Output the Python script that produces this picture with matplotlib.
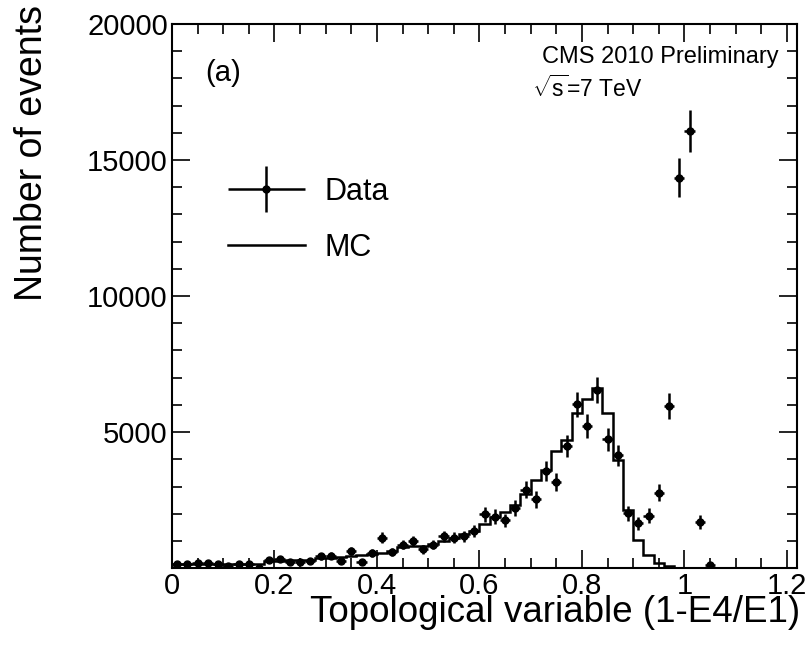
import numpy as np
import matplotlib
matplotlib.use("Agg")
import matplotlib.pyplot as plt
from matplotlib.container import ErrorbarContainer
from matplotlib.legend_handler import HandlerErrorbar
from matplotlib.ticker import MultipleLocator

plt.rcParams["font.family"] = ["Liberation Sans", "DejaVu Sans"]
plt.rcParams["mathtext.fontset"] = "custom"
plt.rcParams["mathtext.rm"] = "Liberation Sans"
plt.rcParams["mathtext.it"] = "Liberation Sans"

# data points: bin centres (width 0.02), counts and vertical errors
data_x = [0.01, 0.03, 0.05, 0.07, 0.09, 0.11, 0.13, 0.15, 0.17, 0.19,
          0.21, 0.23, 0.25, 0.27, 0.29, 0.31, 0.33, 0.35, 0.37, 0.39,
          0.41, 0.43, 0.45, 0.47, 0.49, 0.51, 0.53, 0.55, 0.57, 0.59,
          0.61, 0.63, 0.65, 0.67, 0.69, 0.71, 0.73, 0.75, 0.77, 0.79,
          0.81, 0.83, 0.85, 0.87, 0.89, 0.91, 0.93, 0.95, 0.97, 0.99,
          1.01, 1.03, 1.05]
data_y = [140, 160, 180, 195, 160, 75, 170, 160, 10, 300,
          340, 230, 230, 280, 440, 465, 255, 625, 230, 560,
          1115, 600, 870, 990, 690, 870, 1175, 1115, 1175, 1360,
          1975, 1900, 1760, 2210, 2890, 2530, 3570, 3165, 4485, 6020,
          5220, 6550, 4730, 4150, 2015, 1650, 1930, 2780, 5955, 14350,
          16070, 1700, 135]
data_err = [70, 75, 80, 85, 75, 50, 80, 75, 20, 105,
            110, 90, 90, 100, 125, 130, 95, 150, 90, 140,
            200, 145, 175, 190, 160, 175, 205, 200, 205, 220,
            265, 260, 250, 280, 325, 300, 360, 340, 400, 465,
            435, 485, 415, 385, 270, 245, 265, 315, 465, 720,
            760, 245, 70]

# MC histogram, 60 bins from 0 to 1.2
mc_counts = [150, 160, 170, 170, 170, 160, 160, 160, 170, 250,
             280, 290, 300, 320, 370, 390, 400, 450, 470, 530,
             570, 640, 780, 800, 830, 900, 1000, 1100, 1250, 1380,
             1640, 1900, 2060, 2310, 2740, 3230, 3600, 4290, 4700, 5690,
             6200, 6640, 5690, 3970, 2130, 1030, 480, 200, 80, 0,
             0, 0, 0, 0, 0, 0, 0, 0, 0, 0]
mc_edges = np.linspace(0, 1.2, len(mc_counts) + 1)

x_ticks = [0, 0.2, 0.4, 0.6, 0.8, 1.0, 1.2]
x_tick_labels = ["0", "0.2", "0.4", "0.6", "0.8", "1", "1.2"]
y_ticks = [5000, 10000, 15000, 20000]

fig = plt.figure(figsize=(8.11, 6.45), dpi=100)
ax = fig.add_axes([0.212, 0.119, 0.771, 0.844])

ax.stairs(mc_counts, mc_edges, color="black", linewidth=1.8, label="MC")
ax.errorbar(data_x, data_y, yerr=data_err, xerr=0.01, fmt="o", color="black",
            markersize=5, elinewidth=1.8, capsize=0, label="Data")

ax.set_xlim(0, 1.22)
ax.set_ylim(0, 20000)
ax.set_xticks(x_ticks)
ax.set_xticklabels(x_tick_labels)
ax.xaxis.set_minor_locator(MultipleLocator(0.05))
ax.set_yticks(y_ticks)
ax.yaxis.set_minor_locator(MultipleLocator(1000))
ax.tick_params(which="both", direction="in", top=True, right=True,
               labelsize=21, width=1.2)
ax.tick_params(which="major", length=13, pad=3)
ax.tick_params(which="minor", length=7)
for spine in ax.spines.values():
    spine.set_linewidth(1.5)

ax.set_xlabel("Topological variable (1-E4/E1)", fontsize=26.5, loc="right")
ax.xaxis.set_label_coords(1.005, -0.05)
ax.set_ylabel("Number of events", fontsize=27, loc="top")
ax.yaxis.set_label_coords(-0.195, 1.035)

ax.text(0.054, 0.91, "(a)", transform=ax.transAxes, fontsize=21, va="center")
ax.text(0.97, 0.94, "CMS 2010 Preliminary", transform=ax.transAxes,
        fontsize=17, ha="right", va="center")
ax.text(0.576, 0.88, r"$\sqrt{\mathrm{s}}$=7 TeV", transform=ax.transAxes,
        fontsize=16.5, ha="left", va="center")

handles, labels = ax.get_legend_handles_labels()
ax.legend(handles[::-1], labels[::-1], loc="upper left", frameon=False,
          bbox_to_anchor=(0.046, 0.77), fontsize=22, handlelength=2.5,
          labelspacing=0.85, handletextpad=0.65,
          handler_map={ErrorbarContainer: HandlerErrorbar(xerr_size=1.25, yerr_size=0.75)})

fig.savefig("out.png", dpi=100)
